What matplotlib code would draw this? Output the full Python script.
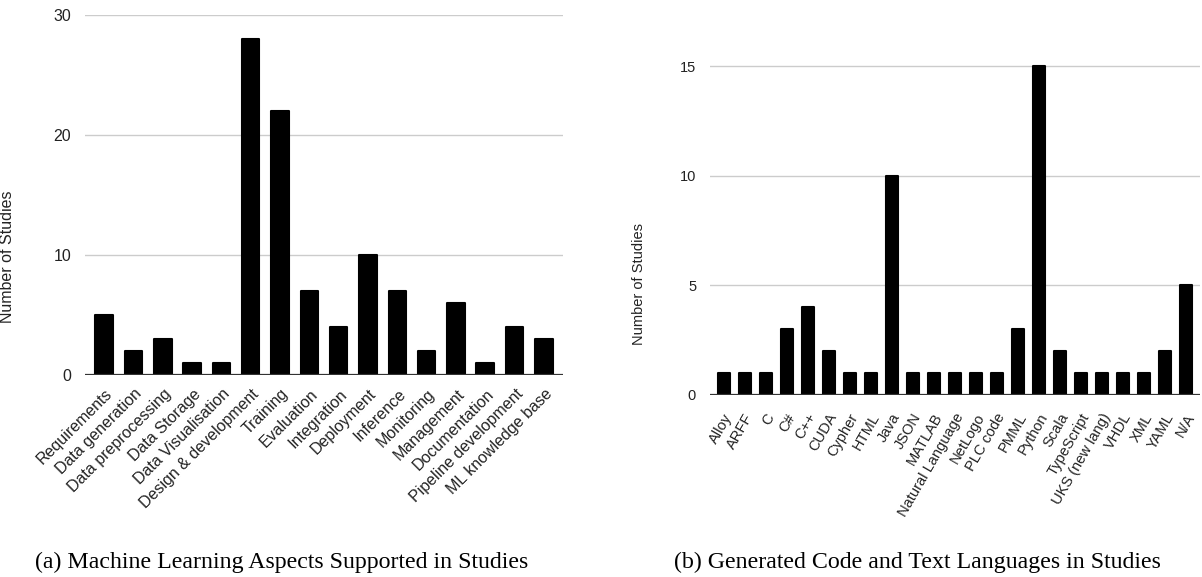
import matplotlib
matplotlib.use("Agg")
import matplotlib.pyplot as plt
import matplotlib.transforms as mtransforms

# (a) ML aspects
aspects = ["Requirements", "Data generation", "Data preprocessing", "Data Storage",
           "Data Visualisation", "Design & development", "Training", "Evaluation",
           "Integration", "Deployment", "Inference", "Monitoring", "Management",
           "Documentation", "Pipeline development", "ML knowledge base"]
aspect_counts = [5, 2, 3, 1, 1, 28, 22, 7, 4, 10, 7, 2, 6, 1, 4, 3]

# (b) languages
languages = ["Alloy", "ARFF", "C", "C#", "C++", "CUDA", "Cypher", "HTML", "Java", "JSON",
             "MATLAB", "Natural Language", "NetLogo", "PLC code", "PMML", "Python", "Scala",
             "TypeScript", "UKS (new lang)", "VHDL", "XML", "YAML", "N/A"]
language_counts = [1, 1, 1, 3, 4, 2, 1, 1, 10, 1, 1, 1, 1, 1, 3, 15, 2, 1, 1, 1, 1, 2, 5]

W, H = 1202, 577
fig = plt.figure(figsize=(W / 100, H / 100), dpi=100)
plt.rcParams['font.family'] = ['Liberation Sans', 'DejaVu Sans']


def px_axes(x0, x1, y_top, y_bot):
    return fig.add_axes([x0 / W, 1 - y_bot / H, (x1 - x0) / W, (y_bot - y_top) / H])


def style(ax, yticks, fs):
    for s in ax.spines.values():
        s.set_visible(False)
    ax.set_yticks(yticks)
    ax.yaxis.grid(True, color='#cccccc', lw=1)
    ax.set_axisbelow(True)
    ax.axhline(0, color='#333333', lw=1.6, zorder=3)
    ax.tick_params(axis='both', length=0, labelsize=fs, colors='#222222')
    ax.tick_params(axis='y', pad=10)


# ---- left chart
ax1 = px_axes(85, 563, 15, 375)
x1 = range(len(aspects))
ax1.bar(x1, aspect_counts, width=0.6, color='black', edgecolor='black',
        linewidth=1.5, joinstyle='round', zorder=2)
ax1.set_xlim(-0.65, len(aspects) - 0.35)
ax1.set_ylim(0, 30)
style(ax1, [0, 10, 20, 30], 11.5)
ax1.set_xticks(list(x1))
ax1.set_xticklabels(aspects, rotation=45, ha='right', va='center',
                    rotation_mode='anchor', fontsize=11.5)
ax1.tick_params(axis='x', pad=12)
off = mtransforms.ScaledTranslation(6 / 100, 0, fig.dpi_scale_trans)
for lab in ax1.get_xticklabels():
    lab.set_transform(lab.get_transform() + off)
ax1.set_ylabel('Number of Studies', fontsize=11.5, color='#222222')
ax1.yaxis.set_label_coords((15 - 85) / 478, (375 - 257) / 360)

# ---- right chart
ax2 = px_axes(710, 1200, 15, 395)
x2 = range(len(languages))
ax2.bar(x2, language_counts, width=0.58, color='black', edgecolor='black',
        linewidth=1.5, joinstyle='round', zorder=2)
ax2.set_xlim(-0.65, len(languages) - 0.35)
ax2.set_ylim(0, 380 / 21.93)
style(ax2, [0, 5, 10, 15], 10.5)
ax2.set_xticks(list(x2))
ax2.set_xticklabels(languages, rotation=60, ha='right', va='center',
                    rotation_mode='anchor', fontsize=10.5)
ax2.tick_params(axis='x', pad=14)
off2 = mtransforms.ScaledTranslation(5 / 100, 0, fig.dpi_scale_trans)
for lab in ax2.get_xticklabels():
    lab.set_transform(lab.get_transform() + off2)
ax2.set_ylabel('Number of Studies', fontsize=10.5, color='#222222')
ax2.yaxis.set_label_coords((646 - 710) / 490, (395 - 284) / 380)

# captions
fig.text(282 / W, 1 - 562 / H, '(a) Machine Learning Aspects Supported in Studies',
         ha='center', va='center', fontsize=17.2, family='Liberation Serif')
fig.text(917 / W, 1 - 562 / H, '(b) Generated Code and Text Languages in Studies',
         ha='center', va='center', fontsize=17.2, family='Liberation Serif')

fig.savefig('out.png', dpi=100)
